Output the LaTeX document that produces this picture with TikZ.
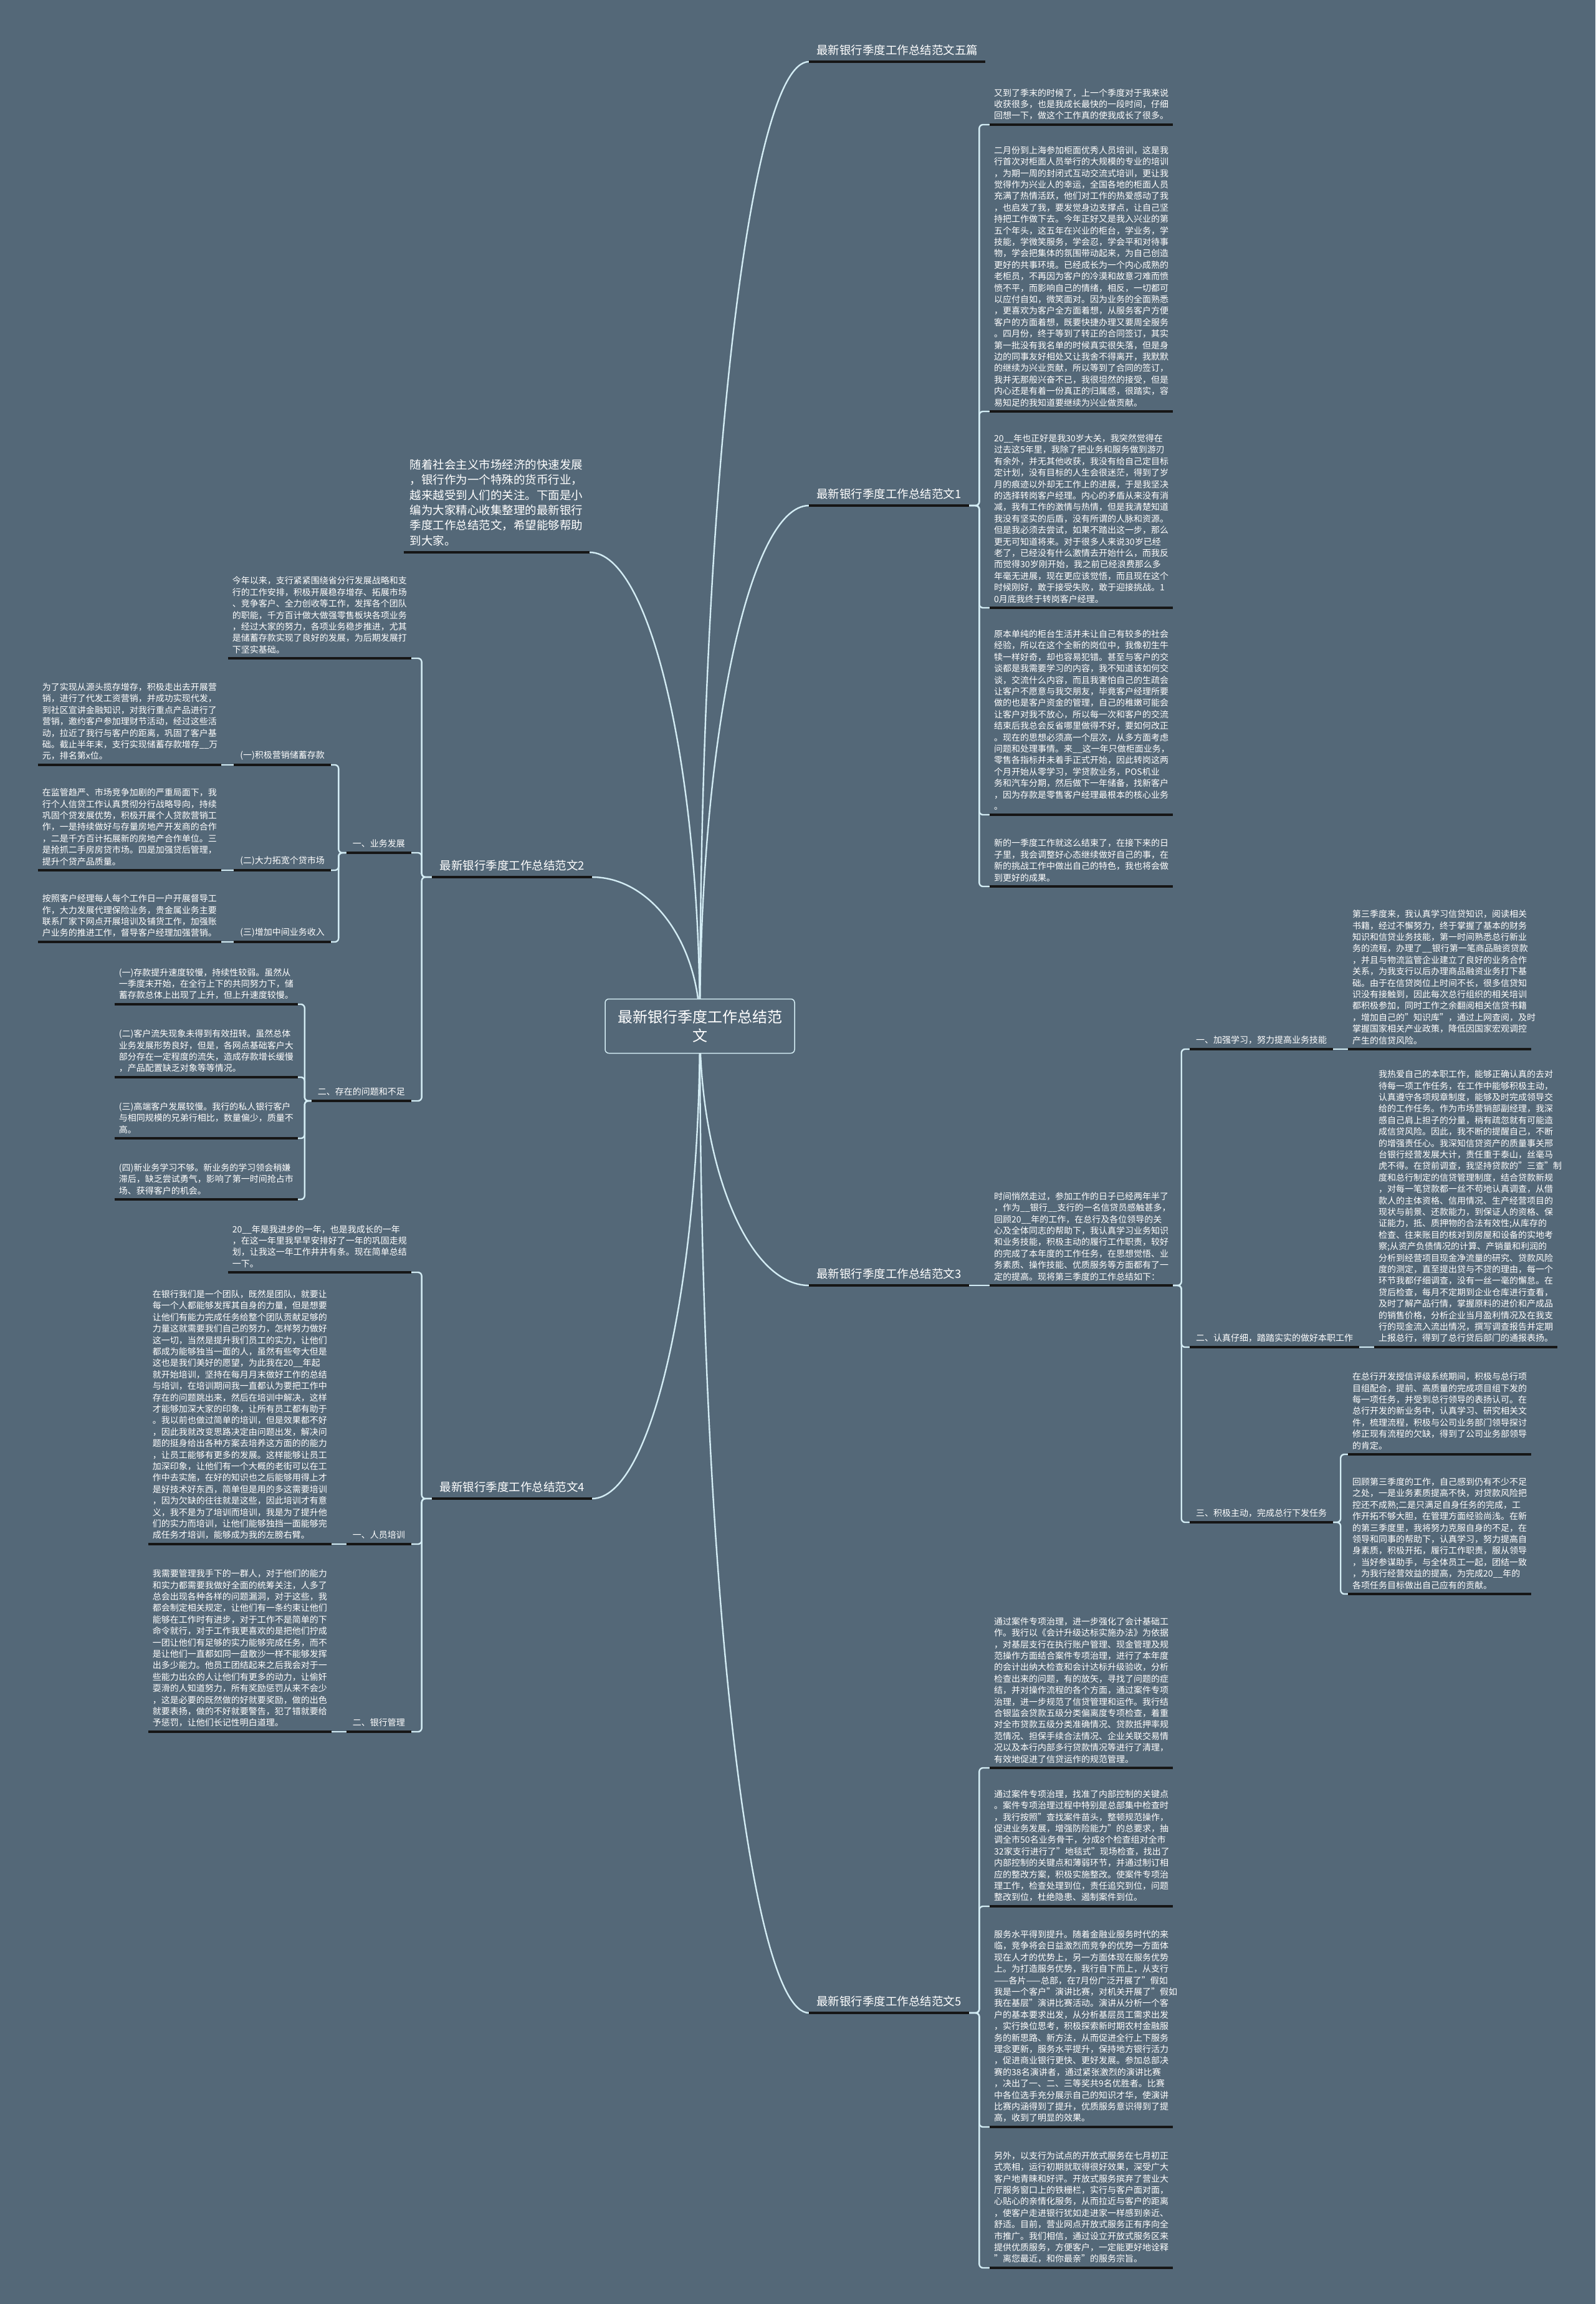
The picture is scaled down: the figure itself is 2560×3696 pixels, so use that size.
\documentclass[tikz,border=0pt]{standalone}
\usepackage{fontspec}
\setmainfont{Noto Sans CJK SC}
\usetikzlibrary{calc}
\definecolor{bgslate}{HTML}{546878}
\definecolor{linkblue}{HTML}{D3ECF4}
\definecolor{lineblack}{HTML}{161616}
\newcommand\leaffont{\fontsize{14}{18.4}\selectfont}
\newcommand\branchfont{\fontsize{18.5}{24}\selectfont}
\newcommand\rootfont{\fontsize{24}{30}\selectfont}
\pgfdeclarelayer{back}
\pgfdeclarelayer{links}
\pgfsetlayers{back,links,main}

\begin{document}
\begin{tikzpicture}[x=1pt,y=-1pt,every node/.style={text=white},
  leafR/.style={anchor=south west,text width=280pt,align=left,inner xsep=7pt,inner ysep=7.5pt,font=\leaffont},
  leafL/.style={leafR,anchor=south east},
  introbox/.style={anchor=south east,text width=278pt,align=left,inner xsep=10pt,inner ysep=10pt,font=\fontsize{18.5}{24.4}\selectfont},
  branchR/.style={anchor=south west,inner xsep=12pt,inner ysep=10pt,font=\branchfont},
  branchL/.style={branchR,anchor=south east},
  subR/.style={anchor=south west,inner xsep=10pt,inner ysep=8pt,font=\leaffont},
  subL/.style={subR,anchor=south east},
  link/.style={linkblue,line width=2.4pt},
  uline/.style={lineblack,line width=3.5pt}]

  \begin{pgfonlayer}{back}
    \fill[bgslate] (0,0) rectangle (2560,3696);
  \end{pgfonlayer}
  \useasboundingbox (0,0) rectangle (2560,3696);

  % centre
  \node[draw=linkblue,fill=bgslate,rounded corners=6pt,line width=1.5pt,minimum width=304pt,minimum height=87pt,align=center,font=\rootfont] (root) at (1123,1646) {最新银行季度工作总结范\\文};

  % right branches
  \node[branchR] (l5p) at (1298,99) {最新银行季度工作总结范文五篇};
  \node[branchR] (l1) at (1298,811) {最新银行季度工作总结范文1};
  \node[branchR] (l3) at (1298,2062) {最新银行季度工作总结范文3};
  \node[branchR] (l5) at (1298,3229) {最新银行季度工作总结范文5};

  \node[leafR] (a1) at (1588,200) {又到了季末的时候了，上一个季度对于我来说\\收获很多，也是我成长最快的一段时间，仔细\\回想一下，做这个工作真的使我成长了很多。};
  \node[leafR] (b1) at (1588,660) {二月份到上海参加柜面优秀人员培训，这是我\\行首次对柜面人员举行的大规模的专业的培训\\，为期一周的封闭式互动交流式培训，更让我\\觉得作为兴业人的幸运，全国各地的柜面人员\\充满了热情活跃，他们对工作的热爱感动了我\\，也启发了我，要发觉身边支撑点，让自己坚\\持把工作做下去。今年正好又是我入兴业的第\\五个年头，这五年在兴业的柜台，学业务，学\\技能，学微笑服务，学会忍，学会平和对待事\\物，学会把集体的氛围带动起来，为自己创造\\更好的共事环境。已经成长为一个内心成熟的\\老柜员，不再因为客户的冷漠和故意刁难而愤\\愤不平，而影响自己的情绪，相反，一切都可\\以应付自如，微笑面对。因为业务的全面熟悉\\，更喜欢为客户全方面着想，从服务客户方便\\客户的方面着想，既要快捷办理又要周全服务\\。四月份，终于等到了转正的合同签订，其实\\第一批没有我名单的时候真实很失落，但是身\\边的同事友好相处又让我舍不得离开，我默默\\的继续为兴业贡献，所以等到了合同的签订，\\我并无那般兴奋不已，我很坦然的接受，但是\\内心还是有着一份真正的归属感，很踏实，容\\易知足的我知道要继续为兴业做贡献。};
  \node[leafR] (c1) at (1588,975) {20\_\_年也正好是我30岁大关，我突然觉得在\\过去这5年里，我除了把业务和服务做到游刃\\有余外，并无其他收获，我没有给自己定目标\\定计划，没有目标的人生会很迷茫，得到了岁\\月的痕迹以外却无工作上的进展，于是我坚决\\的选择转岗客户经理。内心的矛盾从来没有消\\减，我有工作的激情与热情，但是我清楚知道\\我没有坚实的后盾，没有所谓的人脉和资源。\\但是我必须去尝试，如果不踏出这一步，那么\\更无可知道将来。对于很多人来说30岁已经\\老了，已经没有什么激情去开始什么，而我反\\而觉得30岁刚开始，我之前已经浪费那么多\\年毫无进展，现在更应该觉悟，而且现在这个\\时候刚好，敢于接受失败，敢于迎接挑战。1\\0月底我终于转岗客户经理。};
  \node[leafR] (d1) at (1588,1307) {原本单纯的柜台生活并未让自己有较多的社会\\经验，所以在这个全新的岗位中，我像初生牛\\犊一样好奇，却也容易犯错。甚至与客户的交\\谈都是我需要学习的内容，我不知道该如何交\\谈，交流什么内容，而且我害怕自己的生疏会\\让客户不愿意与我交朋友，毕竟客户经理所要\\做的也是客户资金的管理，自己的稚嫩可能会\\让客户对我不放心，所以每一次和客户的交流\\结束后我总会反省哪里做得不好，要如何改正\\。现在的思想必须高一个层次，从多方面考虑\\问题和处理事情。来\_\_这一年只做柜面业务，\\零售各指标并未着手正式开始，因此转岗这两\\个月开始从零学习，学贷款业务，POS机业\\务和汽车分期，然后做下一年储备，找新客户\\，因为存款是零售客户经理最根本的核心业务\\。};
  \node[leafR] (e1) at (1588,1422) {新的一季度工作就这么结束了，在接下来的日\\子里，我会调整好心态继续做好自己的事，在\\新的挑战工作中做出自己的特色，我也将会做\\到更好的成果。};

  \node[leafR] (t3) at (1588,2062) {时间悄然走过，参加工作的日子已经两年半了\\，作为\_\_银行\_\_支行的一名信贷员感触甚多，\\回顾20\_\_年的工作，在总行及各位领导的关\\心及全体同志的帮助下，我认真学习业务知识\\和业务技能，积极主动的履行工作职责，较好\\的完成了本年度的工作任务，在思想觉悟、业\\务素质、操作技能、优质服务等方面都有了一\\定的提高。现将第三季度的工作总结如下：};
  \node[subR] (s31) at (1909,1683) {一、加强学习，努力提高业务技能};
  \node[subR] (s32) at (1909,2161) {二、认真仔细，踏踏实实的做好本职工作};
  \node[subR] (s33) at (1909,2442) {三、积极主动，完成总行下发任务};
  \node[leafR] (a3a) at (2163,1683) {第三季度来，我认真学习信贷知识，阅读相关\\书籍，经过不懈努力，终于掌握了基本的财务\\知识和信贷业务技能，第一时间熟悉总行新业\\务的流程，办理了\_\_银行第一笔商品融资贷款\\，并且与物流监管企业建立了良好的业务合作\\关系，为我支行以后办理商品融资业务打下基\\础。由于在信贷岗位上时间不长，很多信贷知\\识没有接触到，因此每次总行组织的相关培训\\都积极参加，同时工作之余翻阅相关信贷书籍\\，增加自己的"知识库"，通过上网查阅，及时\\掌握国家相关产业政策，降低因国家宏观调控\\产生的信贷风险。};
  \node[leafR] (a3b) at (2205,2161) {我热爱自己的本职工作，能够正确认真的去对\\待每一项工作任务，在工作中能够积极主动，\\认真遵守各项规章制度，能够及时完成领导交\\给的工作任务。作为市场营销部副经理，我深\\感自己肩上担子的分量，稍有疏忽就有可能造\\成信贷风险。因此，我不断的提醒自己，不断\\的增强责任心。我深知信贷资产的质量事关邢\\台银行经营发展大计，责任重于泰山，丝毫马\\虎不得。在贷前调查，我坚持贷款的"三查"制\\度和总行制定的信贷管理制度，结合贷款新规\\，对每一笔贷款都一丝不苟地认真调查，从借\\款人的主体资格、信用情况、生产经营项目的\\现状与前景、还款能力，到保证人的资格、保\\证能力，抵、质押物的合法有效性;从库存的\\检查、往来账目的核对到房屋和设备的实地考\\察;从资产负债情况的计算、产销量和利润的\\分析到经营项目现金净流量的研究、贷款风险\\度的测定，直至提出贷与不贷的理由，每一个\\环节我都仔细调查，没有一丝一毫的懈怠。在\\贷后检查，每月不定期到企业仓库进行查看，\\及时了解产品行情，掌握原料的进价和产成品\\的销售价格，分析企业当月盈利情况及在我支\\行的现金流入流出情况，撰写调查报告并定期\\上报总行，得到了总行贷后部门的通报表扬。};
  \node[leafR] (a3c) at (2163,2333) {在总行开发授信评级系统期间，积极与总行项\\目组配合，提前、高质量的完成项目组下发的\\每一项任务，并受到总行领导的表扬认可。在\\总行开发的新业务中，认真学习、研究相关文\\件，梳理流程，积极与公司业务部门领导探讨\\修正现有流程的欠缺，得到了公司业务部领导\\的肯定。};
  \node[leafR] (a3d) at (2163,2557) {回顾第三季度的工作，自己感到仍有不少不足\\之处，一是业务素质提高不快，对贷款风险把\\控还不成熟;二是只满足自身任务的完成，工\\作开拓不够大胆，在管理方面经验尚浅。在新\\的第三季度里，我将努力克服自身的不足，在\\领导和同事的帮助下，认真学习，努力提高自\\身素质，积极开拓，履行工作职责，服从领导\\，当好参谋助手，与全体员工一起，团结一致\\，为我行经营效益的提高，为完成20\_\_年的\\各项任务目标做出自己应有的贡献。};

  \node[leafR] (a5) at (1588,2836) {通过案件专项治理，进一步强化了会计基础工\\作。我行以《会计升级达标实施办法》为依据\\，对基层支行在执行账户管理、现金管理及规\\范操作方面结合案件专项治理，进行了本年度\\的会计出纳大检查和会计达标升级验收，分析\\检查出来的问题，有的放矢，寻找了问题的症\\结，并对操作流程的各个方面，通过案件专项\\治理，进一步规范了信贷管理和运作。我行结\\合银监会贷款五级分类偏离度专项检查，着重\\对全市贷款五级分类准确情况、贷款抵押率规\\范情况、担保手续合法情况、企业关联交易情\\况以及本行内部多行贷款情况等进行了清理，\\有效地促进了信贷运作的规范管理。};
  \node[leafR] (b5) at (1588,3058) {通过案件专项治理，找准了内部控制的关键点\\。案件专项治理过程中特别是总部集中检查时\\，我行按照"查找案件苗头，整顿规范操作，\\促进业务发展，增强防险能力"的总要求，抽\\调全市50名业务骨干，分成8个检查组对全市\\32家支行进行了"地毯式"现场检查，找出了\\内部控制的关键点和薄弱环节，并通过制订相\\应的整改方案，积极实施整改。使案件专项治\\理工作，检查处理到位，责任追究到位，问题\\整改到位，杜绝隐患、遏制案件到位。};
  \node[leafR] (c5) at (1588,3412) {服务水平得到提升。随着金融业服务时代的来\\临，竞争将会日益激烈而竞争的优势一方面体\\现在人才的优势上，另一方面体现在服务优势\\上。为打造服务优势，我行自下而上，从支行\\\mbox{——各片——总部，在7月份广泛开展了"假如}\\我是一个客户"演讲比赛，对机关开展了"假如\\我在基层"演讲比赛活动。演讲从分析一个客\\户的基本要求出发，从分析基层员工需求出发\\，实行换位思考，积极探索新时期农村金融服\\务的新思路、新方法，从而促进全行上下服务\\理念更新，服务水平提升，保持地方银行活力\\，促进商业银行更快、更好发展。参加总部决\\赛的38名演讲者，通过紧张激烈的演讲比赛\\，决出了一、二、三等奖共9名优胜者。比赛\\中各位选手充分展示自己的知识才华，使演讲\\比赛内涵得到了提升，优质服务意识得到了提\\高，收到了明显的效果。};
  \node[leafR] (d5) at (1588,3638) {另外，以支行为试点的开放式服务在七月初正\\式亮相，运行初期就取得很好效果，深受广大\\客户地青睐和好评。开放式服务摈弃了营业大\\厅服务窗口上的铁栅栏，实行与客户面对面，\\心贴心的亲情化服务，从而拉近与客户的距离\\，使客户走进银行犹如走进家一样感到亲近、\\舒适。目前，营业网点开放式服务正有序向全\\市推广。我们相信，通过设立开放式服务区来\\提供优质服务，方便客户，一定能更好地诠释\\"离您最近，和你最亲"的服务宗旨。};

  % left branches
  \node[introbox] (intro) at (946,886) {随着社会主义市场经济的快速发展\\，银行作为一个特殊的货币行业，\\越来越受到人们的关注。下面是小\\编为大家精心收集整理的最新银行\\季度工作总结范文，希望能够帮助\\到大家。};
  \node[branchL] (l2) at (950,1407) {最新银行季度工作总结范文2};
  \node[branchL] (l4) at (950,2404) {最新银行季度工作总结范文4};

  \node[leafL] (p2) at (660,1056) {今年以来，支行紧紧围绕省分行发展战略和支\\行的工作安排，积极开展稳存增存、拓展市场\\、竞争客户、全力创收等工作，发挥各个团队\\的职能，千方百计做大做强零售板块各项业务\\，经过大家的努力，各项业务稳步推进，尤其\\是储蓄存款实现了良好的发展，为后期发展打\\下坚实基础。};
  \node[subL] (sb1) at (660,1368) {一、业务发展};
  \node[subL] (c11) at (531,1227) {(一)积极营销储蓄存款};
  \node[subL] (c12) at (531,1396) {(二)大力拓宽个贷市场};
  \node[subL] (c13) at (531,1511) {(三)增加中间业务收入};
  \node[leafL] (k11) at (355,1227) {为了实现从源头揽存增存，积极走出去开展营\\销，进行了代发工资营销，并成功实现代发，\\到社区宣讲金融知识，对我行重点产品进行了\\营销，邀约客户参加理财节活动，经过这些活\\动，拉近了我行与客户的距离，巩固了客户基\\础。截止半年末，支行实现储蓄存款增存\_\_万\\元，排名第x位。};
  \node[leafL] (k12) at (355,1396) {在监管趋严、市场竞争加剧的严重局面下，我\\行个人信贷工作认真贯彻分行战略导向，持续\\巩固个贷发展优势，积极开展个人贷款营销工\\作，一是持续做好与存量房地产开发商的合作\\，二是千方百计拓展新的房地产合作单位。三\\是抢抓二手房房贷市场。四是加强贷后管理，\\提升个贷产品质量。};
  \node[leafL] (k13) at (355,1511) {按照客户经理每人每个工作日一户开展督导工\\作，大力发展代理保险业务，贵金属业务主要\\联系厂家下网点开展培训及铺货工作，加强账\\户业务的推进工作，督导客户经理加强营销。};
  \node[subL] (sb2) at (660,1766) {二、存在的问题和不足};
  \node[leafL] (q1) at (478,1611) {(一)存款提升速度较慢，持续性较弱。虽然从\\一季度末开始，在全行上下的共同努力下，储\\蓄存款总体上出现了上升，但上升速度较慢。};
  \node[leafL] (q2) at (478,1728) {(二)客户流失现象未得到有效扭转。虽然总体\\业务发展形势良好，但是，各网点基础客户大\\部分存在一定程度的流失，造成存款增长缓慢\\，产品配置缺乏对象等等情况。};
  \node[leafL] (q3) at (478,1826) {(三)高端客户发展较慢。我行的私人银行客户\\与相同规模的兄弟行相比，数量偏少，质量不\\高。};
  \node[leafL] (q4) at (478,1924) {(四)新业务学习不够。新业务的学习领会稍嫌\\滞后，缺乏尝试勇气，影响了第一时间抢占市\\场、获得客户的机会。};

  \node[leafL] (p4) at (660,2041) {20\_\_年是我进步的一年，也是我成长的一年\\，在这一年里我早早安排好了一年的巩固走规\\划，让我这一年工作井井有条。现在简单总结\\一下。};
  \node[subL] (sb41) at (660,2477) {一、人员培训};
  \node[subL] (sb42) at (660,2778) {二、银行管理};
  \node[leafL] (r1) at (532,2477) {在银行我们是一个团队，既然是团队，就要让\\每一个人都能够发挥其自身的力量，但是想要\\让他们有能力完成任务给整个团队贡献足够的\\力量这就需要我们自己的努力，怎样努力做好\\这一切，当然是提升我们员工的实力，让他们\\都成为能够独当一面的人，虽然有些夸大但是\\这也是我们美好的愿望，为此我在20\_\_年起\\就开始培训，坚持在每月月末做好工作的总结\\与培训，在培训期间我一直都认为要把工作中\\存在的问题跳出来，然后在培训中解决，这样\\才能够加深大家的印象，让所有员工都有助于\\。我以前也做过简单的培训，但是效果都不好\\，因此我就改变思路决定由问题出发，解决问\\题的挺身给出各种方案去培养这方面的的能力\\，让员工能够有更多的发展。这样能够让员工\\加深印象，让他们有一个大概的老街可以在工\\作中去实施，在好的知识也之后能够用得上才\\是好技术好东西，简单但是用的多这需要培训\\，因为欠缺的往往就是这些，因此培训才有意\\义，我不是为了培训而培训，我是为了提升他\\们的实力而培训，让他们能够独挡一面能够完\\成任务才培训，能够成为我的左膀右臂。};
  \node[leafL] (r2) at (532,2778) {我需要管理我手下的一群人，对于他们的能力\\和实力都需要我做好全面的统筹关注，人多了\\总会出现各种各样的问题漏洞，对于这些，我\\都会制定相关规定，让他们有一条约束让他们\\能够在工作时有进步，对于工作不是简单的下\\命令就行，对于工作我更喜欢的是把他们拧成\\一团让他们有足够的实力能够完成任务，而不\\是让他们一直都如同一盘散沙一样不能够发挥\\出多少能力。他员工团结起来之后我会对于一\\些能力出众的人让他们有更多的动力，让偷奸\\耍滑的人知道努力，所有奖励惩罚从来不会少\\，这是必要的既然做的好就要奖励，做的出色\\就要表扬，做的不好就要警告，犯了错就要给\\予惩罚，让他们长记性明白道理。};

  % connectors
  \begin{pgfonlayer}{links}
    \foreach \c in {l5p,l1,l3,l5}
      \draw[link] (root.center) .. controls ($(root.center)!0.55!(root.center |- \c.south west)$) and ($(\c.south west)!0.55!(root.center |- \c.south west)$) .. (\c.south west);
    \foreach \c in {intro,l2,l4}
      \draw[link] (root.center) .. controls ($(root.center)!0.55!(root.center |- \c.south east)$) and ($(\c.south east)!0.55!(root.center |- \c.south east)$) .. (\c.south east);
    \foreach \p/\c in {l1/a1,l1/b1,l1/c1,l1/d1,l1/e1,t3/s31,t3/s32,t3/s33,s33/a3c,s33/a3d,l5/a5,l5/b5,l5/c5,l5/d5}
      \draw[link,rounded corners=6pt] (\p.south east) -| ($(\p.south east)!0.5!(\c.south west)$) |- (\c.south west);
    \foreach \p/\c in {l3/t3,s31/a3a,s32/a3b}
      \draw[link] (\p.south east) -- (\c.south west);
    \foreach \p/\c in {l2/p2,l2/sb1,l2/sb2,sb1/c11,sb1/c12,sb1/c13,sb2/q1,sb2/q2,sb2/q3,sb2/q4,l4/p4,l4/sb41,l4/sb42}
      \draw[link,rounded corners=6pt] (\p.south west) -| ($(\p.south west)!0.5!(\c.south east)$) |- (\c.south east);
    \foreach \p/\c in {c11/k11,c12/k12,c13/k13,sb41/r1,sb42/r2}
      \draw[link] (\p.south west) -- (\c.south east);
  \end{pgfonlayer}

  % underlines
  \foreach \n in {l5p,l1,l3,l5,a1,b1,c1,d1,e1,t3,s31,s32,s33,a3a,a3b,a3c,a3d,a5,b5,c5,d5,intro,l2,l4,p2,sb1,c11,c12,c13,k11,k12,k13,sb2,q1,q2,q3,q4,p4,sb41,sb42,r1,r2}
    \draw[uline] (\n.south west) -- (\n.south east);
\end{tikzpicture}
\end{document}
